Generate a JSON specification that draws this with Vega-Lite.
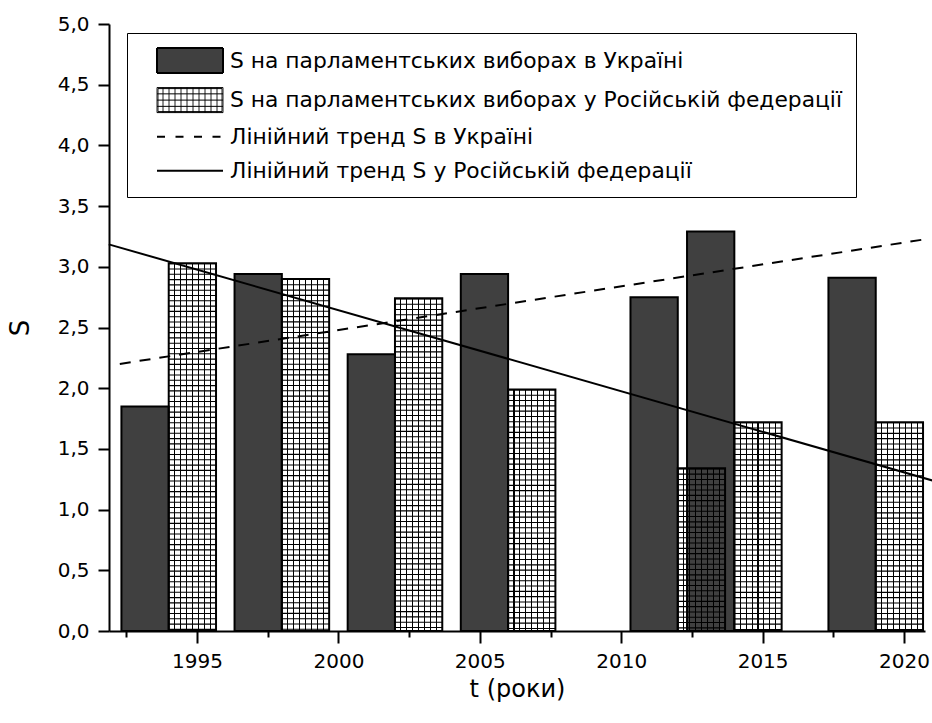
{
  "$schema": "https://vega.github.io/schema/vega-lite/v6.json",
  "width": 816,
  "height": 607,
  "autosize": {"type": "none"},
  "padding": {"left": 109, "top": 24, "right": 7, "bottom": 92},
  "background": "white",
  "datasets": {
    "bars": [
      {"t": 1994, "series": "S на парламентських виборах в Україні", "S": 1.85},
      {"t": 1998, "series": "S на парламентських виборах в Україні", "S": 2.94},
      {"t": 2002, "series": "S на парламентських виборах в Україні", "S": 2.28},
      {"t": 2006, "series": "S на парламентських виборах в Україні", "S": 2.94},
      {"t": 2012, "series": "S на парламентських виборах в Україні", "S": 2.75},
      {"t": 2014, "series": "S на парламентських виборах в Україні", "S": 3.29},
      {"t": 2019, "series": "S на парламентських виборах в Україні", "S": 2.91},
      {"t": 1994, "series": "S на парламентських виборах у Російській федерації", "S": 3.03},
      {"t": 1998, "series": "S на парламентських виборах у Російській федерації", "S": 2.9},
      {"t": 2002, "series": "S на парламентських виборах у Російській федерації", "S": 2.74},
      {"t": 2006, "series": "S на парламентських виборах у Російській федерації", "S": 1.99},
      {"t": 2012, "series": "S на парламентських виборах у Російській федерації", "S": 1.34},
      {"t": 2014, "series": "S на парламентських виборах у Російській федерації", "S": 1.72},
      {"t": 2019, "series": "S на парламентських виборах у Російській федерації", "S": 1.72}
    ],
    "trends": [
      {"t": 1992.27, "series": "Лінійний тренд S в Україні", "S": 2.2},
      {"t": 2020.7, "series": "Лінійний тренд S в Україні", "S": 3.225},
      {"t": 1991.88, "series": "Лінійний тренд S у Російській федерації", "S": 3.185},
      {"t": 2021.0, "series": "Лінійний тренд S у Російській федерації", "S": 1.24}
    ]
  },
  "layer": [
    {
      "data": {"name": "bars"},
      "transform": [{"filter": "datum.series === 'S на парламентських виборах в Україні'"}],
      "mark": {"type": "bar", "fill": "#404040", "stroke": "black", "strokeWidth": 2, "xOffset": -47.3, "x2Offset": 0},
      "encoding": {
        "x": {
          "field": "t", "type": "quantitative",
          "scale": {"domain": [1991.888, 2020.742], "nice": false, "zero": false},
          "axis": {
            "values": [1992.5, 1995, 1997.5, 2000, 2002.5, 2005, 2007.5, 2010, 2012.5, 2015, 2017.5, 2020],
            "labelExpr": "datum.value % 5 === 0 ? format(datum.value, 'd') : ''",
            "tickSize": {"condition": {"test": "datum.value % 5 !== 0", "value": 6}, "value": 12},
            "labelOverlap": false,
            "labelPadding": 8,
            "title": "t (роки)",
            "titleFontSize": 24,
            "titlePadding": 6
          }
        },
        "x2": {"field": "t"},
        "y": {
          "field": "S", "type": "quantitative",
          "scale": {"domain": [0, 5], "nice": false},
          "axis": {
            "values": [0, 0.25, 0.5, 0.75, 1, 1.25, 1.5, 1.75, 2, 2.25, 2.5, 2.75, 3, 3.25, 3.5, 3.75, 4, 4.25, 4.5, 4.75, 5],
            "labelExpr": "datum.value % 0.5 === 0 ? replace(format(datum.value, '.1f'), '.', ',') : ''",
            "tickSize": {"condition": {"test": "datum.value % 0.5 !== 0", "value": 6}, "value": 11},
            "labelOverlap": false,
            "labelPadding": 9,
            "title": "S",
            "titleFontSize": 26,
            "titlePadding": 24
          }
        },
        "y2": {"datum": 0}
      }
    },
    {
      "data": {"name": "bars"},
      "transform": [{"filter": "datum.series === 'S на парламентських виборах у Російській федерації'"}],
      "mark": {
        "type": "bar", "stroke": "black", "strokeWidth": 2, "xOffset": 0, "x2Offset": 47.3,
        "fill": {
          "gradient": "linear", "x1": 0, "y1": 0, "x2": 1, "y2": 0,
          "stops": [
            {"offset": 0, "color": "rgba(255,255,255,0)"},
            {"offset": 0.1134, "color": "rgba(255,255,255,0)"}, {"offset": 0.1134, "color": "black"}, {"offset": 0.1366, "color": "black"}, {"offset": 0.1366, "color": "rgba(255,255,255,0)"},
            {"offset": 0.2384, "color": "rgba(255,255,255,0)"}, {"offset": 0.2384, "color": "black"}, {"offset": 0.2616, "color": "black"}, {"offset": 0.2616, "color": "rgba(255,255,255,0)"},
            {"offset": 0.3634, "color": "rgba(255,255,255,0)"}, {"offset": 0.3634, "color": "black"}, {"offset": 0.3866, "color": "black"}, {"offset": 0.3866, "color": "rgba(255,255,255,0)"},
            {"offset": 0.4884, "color": "rgba(255,255,255,0)"}, {"offset": 0.4884, "color": "black"}, {"offset": 0.5116, "color": "black"}, {"offset": 0.5116, "color": "rgba(255,255,255,0)"},
            {"offset": 0.6134, "color": "rgba(255,255,255,0)"}, {"offset": 0.6134, "color": "black"}, {"offset": 0.6366, "color": "black"}, {"offset": 0.6366, "color": "rgba(255,255,255,0)"},
            {"offset": 0.7384, "color": "rgba(255,255,255,0)"}, {"offset": 0.7384, "color": "black"}, {"offset": 0.7616, "color": "black"}, {"offset": 0.7616, "color": "rgba(255,255,255,0)"},
            {"offset": 0.8634, "color": "rgba(255,255,255,0)"}, {"offset": 0.8634, "color": "black"}, {"offset": 0.8866, "color": "black"}, {"offset": 0.8866, "color": "rgba(255,255,255,0)"},
            {"offset": 1, "color": "rgba(255,255,255,0)"}
          ]
        }
      },
      "encoding": {
        "x": {"field": "t", "type": "quantitative"},
        "x2": {"field": "t"},
        "y": {"field": "S", "type": "quantitative"},
        "y2": {"datum": 0}
      }
    },
    {
      "data": {"name": "bars"},
      "transform": [{"filter": "datum.series === 'S на парламентських виборах у Російській федерації'"}],
      "mark": {"type": "rule", "color": "black", "xOffset": 23.65, "strokeWidth": 47.3, "strokeDash": [1.1, 4.2], "strokeCap": "butt"},
      "encoding": {
        "x": {"field": "t", "type": "quantitative"},
        "y": {"field": "S", "type": "quantitative"},
        "y2": {"datum": 0}
      }
    },
    {
      "data": {"name": "trends"},
      "transform": [{"filter": "datum.series === 'Лінійний тренд S в Україні'"}],
      "mark": {"type": "line", "color": "black", "strokeWidth": 2, "strokeDash": [11, 9], "clip": false},
      "encoding": {
        "x": {"field": "t", "type": "quantitative"},
        "y": {"field": "S", "type": "quantitative"}
      }
    },
    {
      "data": {"name": "trends"},
      "transform": [{"filter": "datum.series === 'Лінійний тренд S у Російській федерації'"}],
      "mark": {"type": "line", "color": "black", "strokeWidth": 2, "clip": false},
      "encoding": {
        "x": {"field": "t", "type": "quantitative"},
        "y": {"field": "S", "type": "quantitative"}
      }
    },
    {
      "data": {"values": []},
      "mark": {"type": "point", "filled": true, "stroke": "black", "opacity": 1, "clip": false},
      "encoding": {
        "x": {"field": "t", "type": "quantitative"},
        "y": {"field": "S", "type": "quantitative"},
        "fill": {
          "field": "series", "type": "nominal",
          "scale": {
            "domain": [
              "S на парламентських виборах в Україні",
              "S на парламентських виборах у Російській федерації",
              "Лінійний тренд S в Україні",
              "Лінійний тренд S у Російській федерації"
            ],
            "range": ["#404040", "white", "transparent", "transparent"]
          },
          "legend": {
            "title": null,
            "orient": "none",
            "legendX": 18,
            "legendY": 9,
            "padding": 14,
            "rowPadding": 8.1,
            "strokeColor": "black",
            "fillColor": "white",
            "symbolSize": 625,
            "symbolStrokeColor": "black",
            "symbolFillColor": "white",
            "symbolStrokeWidth": 2,
            "symbolOpacity": 1,
            "labelOffset": 62,
            "labelLimit": 800,
            "labelFont": "DejaVu Sans",
            "labelFontSize": 21.8,
            "labelColor": "black"
          }
        },
        "shape": {
          "field": "series", "type": "nominal",
          "scale": {
            "domain": [
              "S на парламентських виборах в Україні",
              "S на парламентських виборах у Російській федерації",
              "Лінійний тренд S в Україні",
              "Лінійний тренд S у Російській федерації"
            ],
            "range": [
              "M-1.08,0M0.2,-1H5.48V1H0.2Z",
              "M-1.08,0M0.2,-1H5.48V1H0.2Z M0.28,-0.92H5.4V0.92H0.28Z M0.68,-1V1 M1.16,-1V1 M1.64,-1V1 M2.12,-1V1 M2.6,-1V1 M3.08,-1V1 M3.56,-1V1 M4.04,-1V1 M4.52,-1V1 M5,-1V1 M0.2,-0.5H5.48 M0.2,0H5.48 M0.2,0.5H5.48",
              "M-1.08,0M0.2,0H5.48",
              "M-1.08,0M0.2,0H5.48"
            ]
          }
        },
        "strokeDash": {
          "field": "series", "type": "nominal",
          "scale": {
            "domain": [
              "S на парламентських виборах в Україні",
              "S на парламентських виборах у Російській федерації",
              "Лінійний тренд S в Україні",
              "Лінійний тренд S у Російській федерації"
            ],
            "range": [[1, 0], [1, 0], [8, 10.5], [1, 0]]
          }
        },
        "strokeWidth": {
          "field": "series", "type": "nominal",
          "scale": {
            "type": "ordinal",
            "domain": [
              "S на парламентських виборах в Україні",
              "S на парламентських виборах у Російській федерації",
              "Лінійний тренд S в Україні",
              "Лінійний тренд S у Російській федерації"
            ],
            "range": [2, 1, 2, 2]
          }
        }
      }
    }
  ],
  "config": {
    "view": {"stroke": null},
    "font": "DejaVu Sans",
    "axis": {
      "grid": false,
      "domainColor": "black",
      "domainWidth": 2,
      "tickColor": "black",
      "tickWidth": 2,
      "labelColor": "black",
      "labelFont": "DejaVu Sans",
      "labelFontSize": 20,
      "titleColor": "black",
      "titleFont": "DejaVu Sans",
      "titleFontWeight": "normal"
    }
  }
}
